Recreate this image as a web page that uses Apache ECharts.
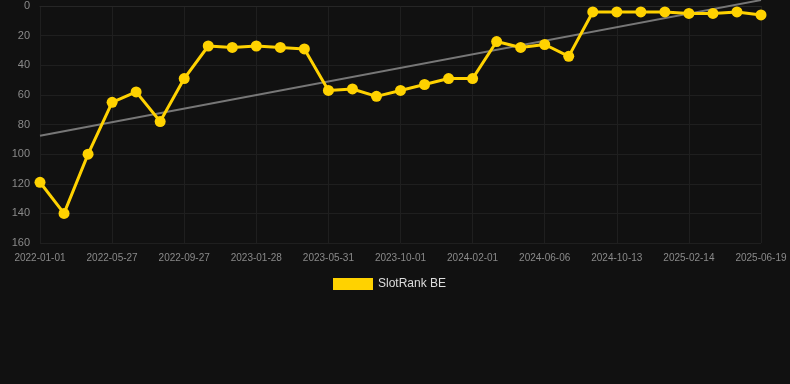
<!DOCTYPE html>
<html>
<head>
<meta charset="utf-8">
<script src="https://cdn.jsdelivr.net/npm/echarts@6/dist/echarts.min.js"></script>
<style>
html,body{margin:0;padding:0;background:#111111;}
#c{width:790px;height:384px;}
</style>
</head>
<body>
<div id="c"></div>
<script>
var categories = [
  "2022-01-01","2022-02-19","2022-04-08","2022-05-27","2022-07-07","2022-08-17",
  "2022-09-27","2022-11-06","2022-12-17","2023-01-28","2023-03-09","2023-04-20",
  "2023-05-31","2023-07-11","2023-08-21","2023-10-01","2023-11-11","2023-12-22",
  "2024-02-01","2024-03-14","2024-04-25","2024-06-06","2024-07-18","2024-08-31",
  "2024-10-13","2024-11-24","2025-01-04","2025-02-14","2025-03-29","2025-05-09",
  "2025-06-19"
];
var rankValues = [
  119,140,100,65,58,78,49,27,28,27,28,29,57,56,61,57,53,49,49,24,28,26,34,4,4,4,4,5,5,4,6
];
var trendStart = 87.6;
var trendEnd = -4;
var seriesName = "SlotRank BE";

var trendData = categories.map(function(_, i){
  if (i === 0) return trendStart;
  if (i === categories.length - 1) return trendEnd;
  return null;
});

var chart = echarts.init(document.getElementById('c'), null, {renderer:'canvas'});
chart.setOption({
  backgroundColor: '#111111',
  animation: false,
  grid: {left: 40, right: 29, top: 6, bottom: 141},
  legend: {
    data: [seriesName],
    top: 273,
    left: 328,
    itemWidth: 40,
    itemHeight: 12,
    icon: 'rect',
    textStyle: {color: '#dddddd', fontSize: 12, fontFamily: 'Liberation Sans, Arial, sans-serif'}
  },
  xAxis: {
    type: 'category',
    data: categories,
    boundaryGap: false,
    axisLine: {show: true, lineStyle: {color: '#262626'}},
    axisTick: {show: false},
    axisLabel: {color: '#8a8a8a', fontSize: 10, interval: 2, margin: 10, fontFamily: 'Liberation Sans, Arial, sans-serif'},
    splitLine: {show: true, interval: 2, lineStyle: {color: '#1f1f1f'}}
  },
  yAxis: {
    type: 'value',
    inverse: true,
    min: 0,
    max: 160,
    interval: 20,
    axisLine: {show: false},
    axisTick: {show: false},
    axisLabel: {color: '#8a8a8a', fontSize: 11, margin: 10, fontFamily: 'Liberation Sans, Arial, sans-serif'},
    splitLine: {show: true, lineStyle: {color: '#1f1f1f'}}
  },
  series: [
    {
      name: 'trend',
      type: 'line',
      data: trendData,
      connectNulls: true,
      clip: false,
      symbol: 'none',
      silent: true,
      lineStyle: {color: '#777777', width: 2},
      z: 1
    },
    {
      name: seriesName,
      type: 'line',
      data: rankValues,
      symbol: 'circle',
      symbolSize: 11,
      itemStyle: {color: '#FFD200'},
      lineStyle: {color: '#FFD200', width: 3},
      z: 2
    }
  ]
});
</script>
</body>
</html>
